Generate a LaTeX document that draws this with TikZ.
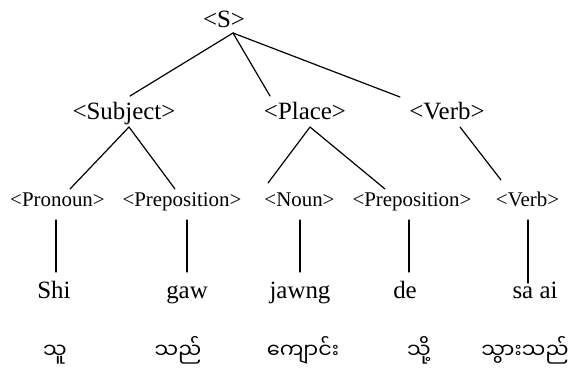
\documentclass[tikz,border=0pt]{standalone}
\usepackage{fontspec}
\setmainfont{Liberation Serif}
\newfontfamily\mmfont[Script=Myanmar]{Noto Sans Myanmar UI}
\begin{document}
\begin{tikzpicture}[x=1bp,y=-1bp,
  big/.style={font=\fontsize{25}{30}\selectfont, inner sep=0pt, anchor=base},
  small/.style={font=\fontsize{21}{25}\selectfont, inner sep=0pt, anchor=base},
  word/.style={font=\fontsize{25}{30}\selectfont, inner sep=0pt, anchor=base},
  mm/.style={font=\mmfont\fontsize{21}{26}\selectfont, inner sep=0pt, anchor=base},
  branch/.style={line width=1.2bp, line cap=round}]
\useasboundingbox (0,0) rectangle (568,372);

% phrase level
\node[big] (S) at (224,27) {<S>};
\node[big] (subj) at (124,119) {<Subject>};
\node[big] (place) at (305,119) {<Place>};
\node[big] (verb) at (447,119) {<Verb>};

% part-of-speech level
\node[small] (pron) at (57.5,206) {<Pronoun>};
\node[small] (prep1) at (182,206) {<Preposition>};
\node[small] (noun) at (299.5,206) {<Noun>};
\node[small] (prep2) at (412,206) {<Preposition>};
\node[small] (verb2) at (527.5,206) {<Verb>};

% romanised words
\node[word] (w1) at (54,298) {Shi};
\node[word] (w2) at (187,298) {gaw};
\node[word] (w3) at (300,298) {jawng};
\node[word] (w4) at (405,298) {de};
\node[word] (w5) at (535,298) {sa ai};

% Burmese words
\node[mm] (m1) at (55,358) {သူ};
\node[mm] (m2) at (178,358) {သည်};
\node[mm] (m3) at (303,358) {ကျောင်း};
\node[mm] (m4) at (419,358) {သို့};
\node[mm] (m5) at (525,358) {သွားသည်};

% branch end points
\coordinate (S-foot) at (233,33);
\coordinate (subj-top) at (130,96);
\coordinate (place-top) at (270,96);
\coordinate (verb-top) at (400,97);
\coordinate (subj-foot) at (129,127);
\coordinate (place-foot) at (310,127);
\coordinate (verb-foot) at (460,127);
\coordinate (pron-top) at (70,189);
\coordinate (prep1-top) at (175,189);
\coordinate (noun-top) at (268,183);
\coordinate (prep2-top) at (385,189);
\coordinate (verb2-top) at (501,180);

\draw[branch] (S-foot) -- (subj-top);
\draw[branch] (S-foot) -- (place-top);
\draw[branch] (S-foot) -- (verb-top);
\draw[branch] (subj-foot) -- (pron-top);
\draw[branch] (subj-foot) -- (prep1-top);
\draw[branch] (place-foot) -- (noun-top);
\draw[branch] (place-foot) -- (prep2-top);
\draw[branch] (verb-foot) -- (verb2-top);

% stems down to the words
\draw[branch] (56,220) -- (56,272);
\draw[branch] (187,220) -- (187,272);
\draw[branch] (300,220) -- (300,272);
\draw[branch] (409,220) -- (409,272);
\draw[branch] (528,220) -- (528,283);
\end{tikzpicture}
\end{document}
